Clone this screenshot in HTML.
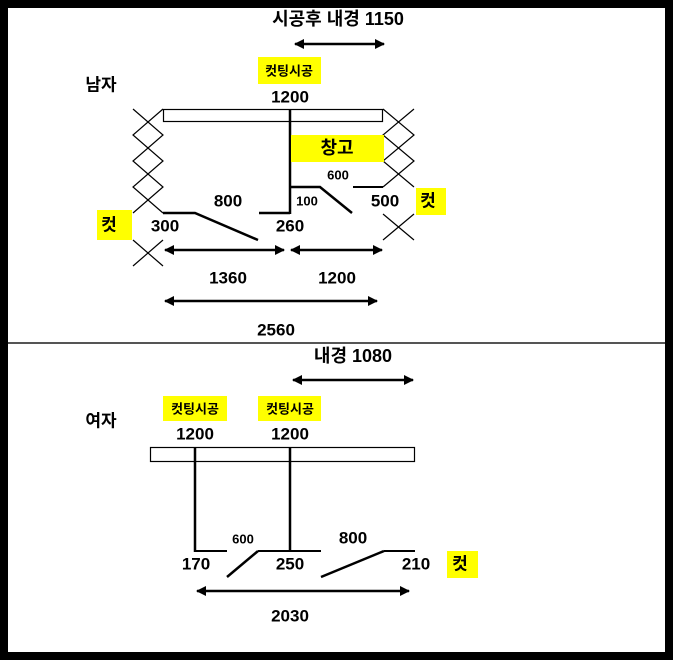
<!DOCTYPE html>
<html><head><meta charset="utf-8"><style>
html,body{margin:0;padding:0;background:#000;}
svg{display:block;}
text{font-family:"Liberation Sans","Noto Sans CJK KR",sans-serif;font-weight:bold;fill:#000;text-anchor:middle;dominant-baseline:central;}
</style></head><body>
<svg width="673" height="660" viewBox="0 0 673 660" xmlns="http://www.w3.org/2000/svg">
<defs>
<marker id="a" viewBox="0 0 10 10" refX="9" refY="5" markerWidth="4" markerHeight="4" orient="auto-start-reverse"><path d="M0,0L10,5L0,10z" fill="#000"/></marker>
</defs>
<rect x="8" y="8" width="657" height="644" fill="#fff"/>
<line x1="8" y1="343" x2="665" y2="343" stroke="#555" stroke-width="2"/>

<g stroke="#000" fill="none">
<line x1="295" y1="44" x2="384" y2="44" stroke-width="2.5" marker-start="url(#a)" marker-end="url(#a)"/>
<rect x="163.5" y="109.5" width="219" height="12" stroke-width="1.2"/>
<line x1="290" y1="109" x2="290" y2="214" stroke-width="2.5"/>
<polyline points="133,109 163,135 133,161 163,187 133,213" stroke-width="1.2"/>
<polyline points="163,109 133,135 163,161 133,187 163,213" stroke-width="1.2"/>
<line x1="133" y1="240" x2="163" y2="266" stroke-width="1.2"/>
<line x1="163" y1="240" x2="133" y2="266" stroke-width="1.2"/>
<polyline points="383,109 414,135 383,161 414,187" stroke-width="1.2"/>
<polyline points="414,109 383,135 414,161 383,187" stroke-width="1.2"/>
<line x1="383" y1="214" x2="414" y2="240" stroke-width="1.2"/>
<line x1="414" y1="214" x2="383" y2="240" stroke-width="1.2"/>
<line x1="353" y1="187" x2="383" y2="187" stroke-width="2"/>
<polyline points="163,213 195,213 258,240" stroke-width="2.5"/>
<line x1="259" y1="213" x2="290" y2="213" stroke-width="2.5"/>
<polyline points="290,187 320,187 352,213" stroke-width="2.5"/>
<line x1="165" y1="250" x2="284" y2="250" stroke-width="2.5" marker-start="url(#a)" marker-end="url(#a)"/>
<line x1="291" y1="250" x2="382" y2="250" stroke-width="2.5" marker-start="url(#a)" marker-end="url(#a)"/>
<line x1="165" y1="301" x2="377" y2="301" stroke-width="2.5" marker-start="url(#a)" marker-end="url(#a)"/>
<line x1="293" y1="380" x2="413" y2="380" stroke-width="2.5" marker-start="url(#a)" marker-end="url(#a)"/>
<rect x="150.5" y="447.5" width="264" height="14" stroke-width="1.2"/>
<line x1="195" y1="447" x2="195" y2="552" stroke-width="2.5"/>
<line x1="290" y1="447" x2="290" y2="552" stroke-width="2.5"/>
<line x1="195" y1="551" x2="227" y2="551" stroke-width="2"/>
<line x1="258" y1="551" x2="321" y2="551" stroke-width="2"/>
<line x1="384" y1="551" x2="415" y2="551" stroke-width="2"/>
<line x1="227" y1="577" x2="258" y2="551" stroke-width="2.5"/>
<line x1="321" y1="577" x2="384" y2="551" stroke-width="2.5"/>
<line x1="197" y1="591" x2="409" y2="591" stroke-width="2.5" marker-start="url(#a)" marker-end="url(#a)"/>
</g>

<g fill="#ffff00">
<rect x="258" y="57" width="63" height="27"/>
<rect x="291" y="135" width="93" height="27"/>
<rect x="97" y="210" width="35" height="30"/>
<rect x="416" y="188" width="30" height="27"/>
<rect x="163" y="396" width="64" height="25"/>
<rect x="258" y="396" width="63" height="25"/>
<rect x="447" y="551" width="31" height="27"/>
</g>

<text x="338" y="19" font-size="18">시공후 내경 1150</text>
<text x="101" y="85" font-size="17">남자</text>
<text x="289" y="71" font-size="13">컷팅시공</text>
<text x="290" y="97" font-size="17">1200</text>
<text x="337" y="148" font-size="18">창고</text>
<text x="338" y="175" font-size="13">600</text>
<text x="228" y="201" font-size="17">800</text>
<text x="307" y="201" font-size="13">100</text>
<text x="385" y="201" font-size="17">500</text>
<text x="428" y="201" font-size="17">컷</text>
<text x="109" y="225" font-size="17">컷</text>
<text x="165" y="226" font-size="17">300</text>
<text x="290" y="226" font-size="17">260</text>
<text x="228" y="278" font-size="17">1360</text>
<text x="337" y="278" font-size="17">1200</text>
<text x="276" y="330" font-size="17">2560</text>

<text x="353" y="356" font-size="18">내경 1080</text>
<text x="101" y="421" font-size="17">여자</text>
<text x="195" y="409" font-size="13">컷팅시공</text>
<text x="290" y="409" font-size="13">컷팅시공</text>
<text x="195" y="434" font-size="17">1200</text>
<text x="290" y="434" font-size="17">1200</text>
<text x="243" y="539" font-size="13">600</text>
<text x="353" y="538" font-size="17">800</text>
<text x="196" y="564" font-size="17">170</text>
<text x="290" y="564" font-size="17">250</text>
<text x="416" y="564" font-size="17">210</text>
<text x="460" y="564" font-size="17">컷</text>
<text x="290" y="616" font-size="17">2030</text>
</svg>
</body></html>
